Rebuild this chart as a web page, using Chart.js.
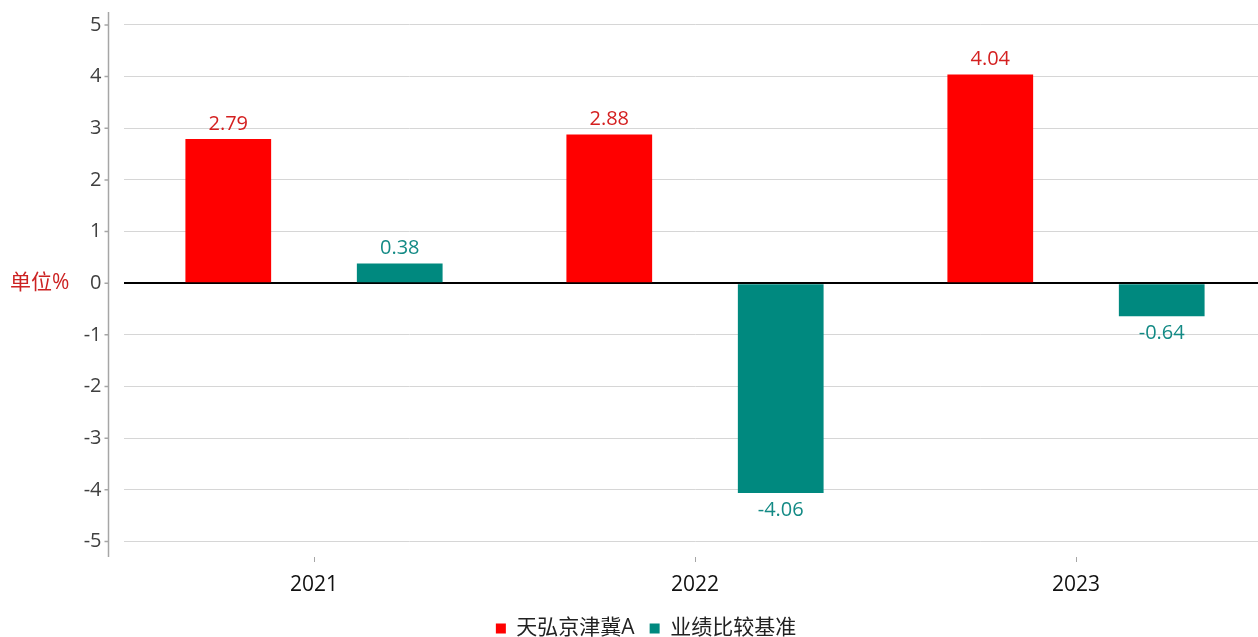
<!DOCTYPE html>
<html>
<head>
<meta charset="utf-8">
<script src="https://cdn.jsdelivr.net/npm/chart.js@4.4.0/dist/chart.umd.min.js"></script>
<style>
  html, body { margin: 0; padding: 0; background: #fff; overflow: hidden; }
  #wrap { width: 1294px; height: 637px; }
</style>
</head>
<body>
<div id="wrap"><canvas id="chart"></canvas></div>
<script>
// Data
const years = ["2021", "2022", "2023"];
const fundName = "天弘京津冀A";
const benchName = "业绩比较基准";
const fundReturns = [2.79, 2.88, 4.04];
const benchReturns = [0.38, -4.06, -0.64];

// Colors
const COLOR_FUND        = "#ff0000";
const COLOR_BENCH       = "#00897f";
const COLOR_FUND_LABEL  = "#d42020";
const COLOR_BENCH_LABEL = "#138a85";
const COLOR_GRID        = "#d6d6d6";
const COLOR_AXIS        = "#a6a6a6";
const FONT = '"Open Sans", "Noto Sans CJK SC", sans-serif';

// Value labels above / below each bar
const valueLabels = {
    id: "valueLabels",
    afterDatasetsDraw(chart) {
        const ctx = chart.ctx;
        ctx.save();
        ctx.font = "20px " + FONT;
        ctx.textAlign = "center";
        ctx.textBaseline = "middle";
        chart.data.datasets.forEach((ds, di) => {
            const meta = chart.getDatasetMeta(di);
            meta.data.forEach((bar, i) => {
                const v = ds.data[i];
                ctx.fillStyle = di === 0 ? COLOR_FUND_LABEL : COLOR_BENCH_LABEL;
                const y = v >= 0 ? bar.y - 15 : bar.y + 17;
                ctx.fillText(v.toFixed(2), bar.x, y);
            });
        });
        ctx.restore();
    }
};

// Detached y axis line, small ticks and unit label
const yAxisDecor = {
    id: "yAxisDecor",
    afterDraw(chart) {
        const ctx = chart.ctx;
        const area = chart.chartArea;
        const yScale = chart.scales.y;
        const x = area.left - 15;
        ctx.save();
        ctx.strokeStyle = COLOR_AXIS;
        ctx.lineWidth = 1.5;
        ctx.beginPath();
        ctx.moveTo(x, area.top);
        ctx.lineTo(x, area.bottom);
        yScale.ticks.forEach(t => {
            const py = yScale.getPixelForValue(t.value);
            ctx.moveTo(x - 4, py);
            ctx.lineTo(x, py);
        });
        ctx.stroke();
        ctx.fillStyle = "#cc2222";
        ctx.font = "21px " + FONT;
        ctx.textAlign = "left";
        ctx.textBaseline = "middle";
        ctx.fillText("单位%", 10, yScale.getPixelForValue(0));
        ctx.restore();
    }
};

new Chart("chart", {
    type: "bar",
    data: {
        labels: years,
        datasets: [{
            label: fundName,
            data: fundReturns,
            backgroundColor: COLOR_FUND,
            categoryPercentage: 0.9,
            barPercentage: 0.5
        },
        {
            label: benchName,
            data: benchReturns,
            backgroundColor: COLOR_BENCH,
            categoryPercentage: 0.9,
            barPercentage: 0.5
        }]
    },
    options: {
        responsive: true,
        maintainAspectRatio: false,
        animation: false,
        layout: {
            padding: { top: 12, right: 27.5, bottom: -12, left: 25.5 }
        },
        plugins: {
            tooltip: { enabled: false },
            legend: {
                position: "bottom",
                labels: {
                    boxWidth: 10,
                    boxHeight: 10,
                    padding: 15,
                    color: "#222",
                    font: { family: FONT, size: 21 }
                }
            }
        },
        scales: {
            x: {
                border: { display: false },
                grid: {
                    offset: false,
                    drawOnChartArea: false,
                    drawTicks: true,
                    tickLength: 5,
                    color: COLOR_AXIS
                },
                ticks: {
                    color: "#111",
                    padding: 10,
                    font: { family: FONT, size: 21 }
                },
                afterFit(scale) { scale.height = 46; }
            },
            y: {
                min: -5.3,
                max: 5.25,
                border: { display: false },
                grid: {
                    drawTicks: false,
                    color: ctx => (ctx.tick && ctx.tick.value === 0) ? "#000" : COLOR_GRID,
                    lineWidth: ctx => (ctx.tick && ctx.tick.value === 0) ? 2 : 1
                },
                ticks: {
                    stepSize: 1,
                    includeBounds: false,
                    padding: 22,
                    color: "#404040",
                    font: { family: FONT, size: 20 }
                },
                afterFit(scale) {
                    scale.width = 98;
                    scale.paddingTop = 0;
                    scale.paddingBottom = 0;
                }
            }
        }
    },
    plugins: [valueLabels, yAxisDecor]
});
</script>
</body>
</html>
